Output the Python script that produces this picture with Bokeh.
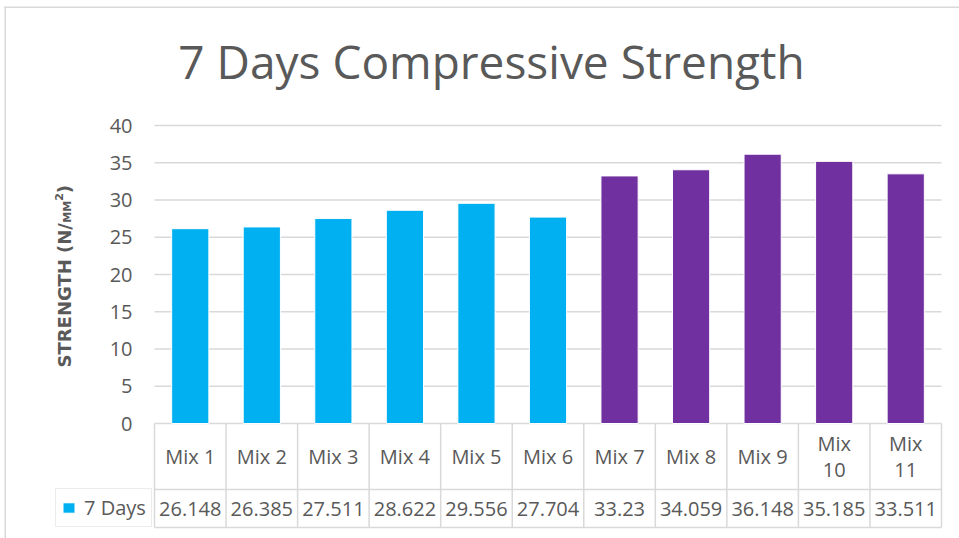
import math
from bokeh.plotting import figure
from bokeh.models import Range1d, FixedTicker, ColumnDataSource, Legend, LegendItem
from bokeh.core.properties import value
from bokeh.embed import file_html
from bokeh.resources import INLINE

# ---------------- data ----------------
categories = ["Mix 1", "Mix 2", "Mix 3", "Mix 4", "Mix 5", "Mix 6",
              "Mix 7", "Mix 8", "Mix 9", "Mix 10", "Mix 11"]
strength_7_days = [26.148, 26.385, 27.511, 28.622, 29.556, 27.704,
                   33.23, 34.059, 36.148, 35.185, 33.511]
bar_colors = ["#00B0F0"] * 6 + ["#7030A0"] * 5
y_ticks = [0, 5, 10, 15, 20, 25, 30, 35, 40]
series_name = "7 Days"
title_text = "7 Days Compressive Strength"

# ---------------- layout (page pixels) ----------------
PAGE_L, PAGE_T, PAGE_R, PAGE_B = 0, 0, 959, 538
BORDER_L, BORDER_T = 4.0, 6.0
PLOT_L, PLOT_R = 154.0, 941.0
Y_TOP_PX, Y_ZERO_PX = 125.0, 423.0
ROW1_B, ROW2_B = 489.0, 527.0
KEY_L = 55.0
N = len(categories)
XU = (PLOT_R - PLOT_L) / N
YU = (Y_ZERO_PX - Y_TOP_PX) / (y_ticks[-1] - y_ticks[0])


def dx(px):
    return 0.5 + (px - PLOT_L) / XU


def dy(py):
    return (Y_ZERO_PX - py) / YU


GRID = "#d9d9d9"
TXT = "#595959"
FONT = "Open Sans"

p = figure(width=PAGE_R - PAGE_L, height=PAGE_B - PAGE_T,
           x_range=Range1d(dx(PAGE_L), dx(PAGE_R)),
           y_range=Range1d(dy(PAGE_B), dy(PAGE_T)),
           output_backend="svg", toolbar_location=None, tools="",
           x_axis_location=None, y_axis_location="left",
           min_border=0, outline_line_color=None,
           background_fill_color="white", border_fill_color="white")
p.grid.visible = False

# y axis drawn at the left edge of the plot area
ax = p.yaxis[0]
ax.fixed_location = 0.5
ax.ticker = FixedTicker(ticks=y_ticks)
ax.axis_line_color = None
ax.major_tick_line_color = None
ax.minor_tick_line_color = None
ax.major_tick_out = 0
ax.major_tick_in = 0
ax.major_label_standoff = 22
ax.major_label_text_font = FONT
ax.major_label_text_font_size = "20px"
ax.major_label_text_color = TXT

xs = list(range(1, N + 1))
left_edge, right_edge = 0.5, N + 0.5

# horizontal gridlines
p.segment(x0=left_edge, x1=right_edge, y0=y_ticks, y1=y_ticks,
          line_color=GRID, line_width=1.5)

src = ColumnDataSource(dict(x=xs, top=strength_7_days, color=bar_colors,
                            cat=categories))
bars = p.vbar(x="x", top="top", bottom=0, width=0.52, source=src,
              fill_color="color", line_color="white", line_width=1)

# data table lines
edges = [i + 0.5 for i in range(N + 1)]
p.segment(x0=edges, x1=edges, y0=0, y1=dy(ROW2_B), line_color=GRID, line_width=1.5)
p.segment(x0=left_edge, x1=right_edge, y0=[dy(ROW1_B), dy(ROW2_B)],
          y1=[dy(ROW1_B), dy(ROW2_B)], line_color=GRID, line_width=1.5)

# table texts
header = [c.replace(" ", "\n") if len(c) > 5 else c for c in categories]
p.text(x=xs, y=dy((Y_ZERO_PX + ROW1_B) / 2), text=header,
       text_font=value(FONT), text_font_size=value("20px"), text_color=TXT,
       text_align="center", text_baseline="middle", text_line_height=0.95)
p.text(x=xs, y=dy((ROW1_B + ROW2_B) / 2), text=[f"{v:g}" for v in strength_7_days],
       text_font=value(FONT), text_font_size=value("20px"), text_color=TXT,
       text_align="center", text_baseline="middle")

# legend key cell of the table
legend = Legend(items=[LegendItem(label=series_name, renderers=[bars], index=0)],
                location=(KEY_L - PAGE_L, PAGE_B - ROW2_B),
                padding=5, spacing=0, margin=0, glyph_width=15, glyph_height=13,
                label_standoff=8, label_text_font=FONT, label_text_font_size="20px",
                label_text_color=TXT, border_line_color=GRID, border_line_width=1.5,
                background_fill_color="white", background_fill_alpha=1.0)
p.add_layout(legend)

# title
p.text(x=[dx(491)], y=[dy(60.5)], text=[title_text], text_font=value(FONT),
       text_font_size=value("46px"), text_color=TXT, text_align="center",
       text_baseline="middle")

# y axis title  STRENGTH (N/MM^2) with sub/superscripts, rotated
LF = "DejaVu Sans"
big, small = 18, 11
w_main = 8.046 * big
w_mm = 1.99 * small
w_two = 0.696 * small
y0 = 367.0
pieces = [("STRENGTH (N/", 63.5, y0, big),
          ("MM", 67.0, y0 - w_main, small),
          ("2", 58.5, y0 - w_main - w_mm, small),
          (")", 63.5, y0 - w_main - w_mm - w_two, big)]
for t, cx, by, fs in pieces:
    p.text(x=[dx(cx)], y=[dy(by)], text=[t], angle=math.pi / 2,
           text_font=value(LF), text_font_style="bold",
           text_font_size=value(f"{fs}px"), text_color=TXT,
           text_align="left", text_baseline="middle")

# chart border (top and left edges visible)
p.segment(x0=[dx(BORDER_L), dx(BORDER_L + 0.75)], x1=[dx(PAGE_R), dx(BORDER_L + 0.75)],
          y0=[dy(BORDER_T + 0.75), dy(BORDER_T)], y1=[dy(BORDER_T + 0.75), dy(PAGE_B)],
          line_color=GRID, line_width=1.5)

open("out.html", "w").write(file_html(p, INLINE))
